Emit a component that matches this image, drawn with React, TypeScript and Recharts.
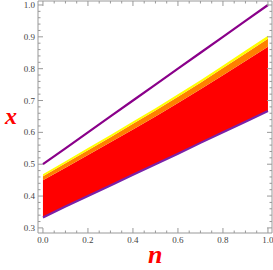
import { ComposedChart, Area, Line, XAxis, YAxis } from 'recharts'

const nValues = [0, 0.1, 0.2, 0.3, 0.4, 0.5, 0.6, 0.7, 0.8, 0.9, 1]
const lowerLine = [0.333, 0.367, 0.4, 0.433, 0.467, 0.5, 0.533, 0.567, 0.6, 0.633, 0.667]
const redTop = [0.45, 0.489, 0.529, 0.569, 0.609, 0.65, 0.692, 0.735, 0.779, 0.824, 0.869]
const orangeTop = [0.4625, 0.503, 0.544, 0.585, 0.627, 0.669, 0.712, 0.756, 0.802, 0.848, 0.894]
const yellowTop = [0.4685, 0.509, 0.551, 0.592, 0.634, 0.676, 0.72, 0.764, 0.81, 0.857, 0.903]
const upperLine = [0.5, 0.55, 0.6, 0.65, 0.7, 0.75, 0.8, 0.85, 0.9, 0.95, 1.0]

const xMajor = [0, 0.2, 0.4, 0.6, 0.8, 1]
const xTicks = [0, 0.05, 0.1, 0.15, 0.2, 0.25, 0.3, 0.35, 0.4, 0.45, 0.5, 0.55, 0.6, 0.65, 0.7, 0.75, 0.8, 0.85, 0.9, 0.95, 1]
const yMajor = [0.3, 0.4, 0.5, 0.6, 0.7, 0.8, 0.9, 1.0]
const yTicks = [0.3, 0.32, 0.34, 0.36, 0.38, 0.4, 0.42, 0.44, 0.46, 0.48, 0.5, 0.52, 0.54, 0.56, 0.58, 0.6, 0.62, 0.64, 0.66, 0.68, 0.7, 0.72, 0.74, 0.76, 0.78, 0.8, 0.82, 0.84, 0.86, 0.88, 0.9, 0.92, 0.94, 0.96, 0.98, 1.0]

const data = nValues.map((n, i) => ({
  n,
  lower: lowerLine[i],
  red: [lowerLine[i], redTop[i]],
  orange: [redTop[i], orangeTop[i]],
  yellow: [orangeTop[i], yellowTop[i]],
  upper: upperLine[i],
}))

const frame = '#999'
const font = '"Liberation Serif", "DejaVu Serif", serif'
const xDomain = [-0.022, 1.018]
const yDomain = [0.284, 1.0125]
const isMajor = (v: number, list: number[]) => list.some((m) => Math.abs(m - v) < 1e-6)

function makeTick(side: 'bottom' | 'top' | 'left' | 'right') {
  return (props: any) => {
    const { x, y, payload } = props
    const v = payload.value
    const major = isMajor(v, side === 'bottom' || side === 'top' ? xMajor : yMajor)
    const len = major ? 5 : 2.5
    if (side === 'bottom')
      return (
        <g>
          <line x1={x} x2={x} y1={y} y2={y - len} stroke={frame} />
          {major && (
            <text x={x} y={y + 10} textAnchor="middle" fontSize={9} fontFamily={font} fill="#444">
              {v.toFixed(1)}
            </text>
          )}
        </g>
      )
    if (side === 'top') return <line x1={x} x2={x} y1={y} y2={y + len} stroke={frame} />
    if (side === 'left')
      return (
        <g>
          <line x1={x} x2={x + len} y1={y} y2={y} stroke={frame} />
          {major && (
            <text x={x - 3} y={y + 3} textAnchor="end" fontSize={9} fontFamily={font} fill="#444">
              {v.toFixed(1)}
            </text>
          )}
        </g>
      )
    return <line x1={x} x2={x - len} y1={y} y2={y} stroke={frame} />
  }
}

const axisCommon = {
  type: 'number' as const,
  allowDataOverflow: true,
  interval: 0 as const,
  tickSize: 0,
  tickMargin: 0,
  tickLine: false,
  axisLine: { stroke: frame },
}

export default function App() {
  return (
    <div style={{ position: 'absolute', left: 0, top: 0, width: 273, height: 270 }}>
      <ComposedChart width={273} height={270} data={data} margin={{ top: 0, right: 0, left: 0, bottom: 0 }}>
        <XAxis {...axisCommon} dataKey="n" domain={xDomain} ticks={xTicks} height={37} tick={makeTick('bottom')} />
        <XAxis
          {...axisCommon}
          xAxisId="top"
          orientation="top"
          dataKey="n"
          domain={xDomain}
          ticks={xTicks}
          height={1}
          tick={makeTick('top')}
        />
        <YAxis {...axisCommon} domain={yDomain} ticks={yTicks} width={38} tick={makeTick('left')} />
        <YAxis
          {...axisCommon}
          yAxisId="right"
          orientation="right"
          domain={yDomain}
          ticks={yTicks}
          width={1}
          tick={makeTick('right')}
        />
        <Area dataKey="red" type="linear" stroke="none" fill="#ff0000" fillOpacity={1} isAnimationActive={false} />
        <Area dataKey="orange" type="linear" stroke="none" fill="#ff8000" fillOpacity={1} isAnimationActive={false} />
        <Area dataKey="yellow" type="linear" stroke="none" fill="#ffff00" fillOpacity={1} isAnimationActive={false} />
        <Line dataKey="lower" type="linear" stroke="#7a22a8" strokeWidth={2.2} dot={false} isAnimationActive={false} />
        <Line dataKey="upper" type="linear" stroke="#8a008a" strokeWidth={2.2} dot={false} isAnimationActive={false} />
      </ComposedChart>
      <div
        style={{
          position: 'absolute',
          left: 5,
          top: 103,
          color: '#ff0000',
          fontFamily: font,
          fontStyle: 'italic',
          fontWeight: 'bold',
          fontSize: 24,
        }}
      >
        x
      </div>
      <div
        style={{
          position: 'absolute',
          left: 148,
          top: 242,
          color: '#ff0000',
          fontFamily: font,
          fontStyle: 'italic',
          fontWeight: 'bold',
          fontSize: 26,
          lineHeight: '26px',
        }}
      >
        n
      </div>
    </div>
  )
}
